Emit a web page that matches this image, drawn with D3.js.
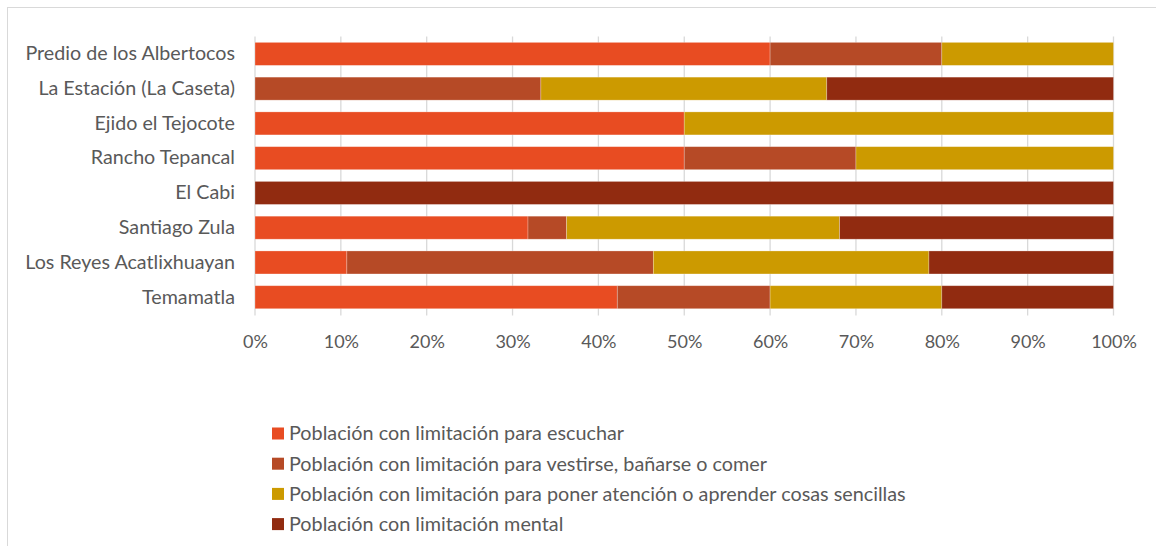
<!DOCTYPE html>
<html><head><meta charset="utf-8">
<script src="https://cdn.jsdelivr.net/npm/d3@7/dist/d3.min.js"></script>
<style>
html,body{margin:0;padding:0;background:#fff;}
svg{display:block;font-family:Lato, "Open Sans", sans-serif;}
</style></head><body>
<svg id="chart" width="1156" height="546"></svg>
<script>
const categories = ["Predio de los Albertocos","La Estación (La Caseta)","Ejido el Tejocote","Rancho Tepancal","El Cabi","Santiago Zula","Los Reyes Acatlixhuayan","Temamatla"];
const seriesNames = ["Población con limitación para escuchar","Población con limitación para vestirse, bañarse o comer","Población con limitación para poner atención o aprender cosas sencillas","Población con limitación mental"];
const escuchar = [60, 0, 50, 50, 0, 31.8, 10.7, 42.2];
const vestirse = [20, 33.3, 0, 20, 0, 4.5, 35.7, 17.8];
const atencion = [20, 33.3, 50, 30, 0, 31.8, 32.1, 20];
const mental   = [0, 33.4, 0, 0, 100, 31.9, 21.5, 20];
const tickValues = [0,0.1,0.2,0.3,0.4,0.5,0.6,0.7,0.8,0.9,1];
const colors = ["#E84C22","#B64A26","#CC9A00","#912B10"];

(function(){
const svg = d3.select("#chart");
const W = 1156, H = 546;
svg.append("rect").attr("x",7.5).attr("y",7.5).attr("width",W+20).attr("height",H+20)
  .attr("fill","none").attr("stroke","#d9d9d9").attr("stroke-width",1);

const pL = 255, pR = 1113.5, pT = 36.5, pB = 314.6;
const x = d3.scaleLinear().domain([0,1]).range([pL,pR]);
const y = d3.scaleBand().domain(categories).range([pT,pB]).paddingInner(0.338).paddingOuter(0.169);

const seriesArrays = [escuchar, vestirse, atencion, mental];
const table = categories.map((c,i)=>{
  const o = {cat:c};
  seriesNames.forEach((s,j)=>o[s]=seriesArrays[j][i]);
  return o;
});
const stacked = d3.stack().keys(seriesNames).offset(d3.stackOffsetExpand)(table);

svg.append("g").selectAll("line").data(tickValues).join("line")
  .attr("x1",d=>x(d)).attr("x2",d=>x(d)).attr("y1",pT).attr("y2",pB+1)
  .attr("stroke","#d9d9d9").attr("stroke-width",1.3);

svg.append("g").selectAll("g").data(stacked).join("g")
  .attr("fill",(d,i)=>colors[i])
  .selectAll("rect").data(d=>d.filter(p=>p[1]-p[0]>0)).join("rect")
  .attr("x",d=>x(d[0])).attr("width",d=>x(d[1])-x(d[0]))
  .attr("y",d=>y(d.data.cat)).attr("height",y.bandwidth())
  .attr("stroke","rgba(255,255,255,0.35)").attr("stroke-width",0.75);

const xAxis = d3.axisBottom(x).tickValues(tickValues).tickFormat(d3.format(".0%")).tickSize(0).tickPadding(0);
const gx = svg.append("g").attr("transform",`translate(0,${pB+21})`).call(xAxis);
gx.select(".domain").remove();
gx.selectAll("text").attr("fill","#595959").style("font-size","18px").style("font-family","Lato, sans-serif").attr("dy","0.32em").attr("y",7);

const yAxis = d3.axisLeft(y).tickSize(0).tickPadding(0);
const gy = svg.append("g").attr("transform",`translate(${pL-20},0)`).call(yAxis);
gy.select(".domain").remove();
gy.selectAll("text").attr("fill","#595959").style("font-size","19.7px").style("font-family","Lato, sans-serif");

const rows = svg.append("g").selectAll("g").data(seriesNames).join("g")
  .attr("transform",(d,i)=>`translate(272,${433.5 + i*30.2})`);
rows.append("rect").attr("x",0).attr("y",-6).attr("width",12).attr("height",12).attr("fill",(d,i)=>colors[i]);
rows.append("text").attr("x",17).attr("dy","0.35em").attr("fill","#595959")
  .style("font-size","19.8px").text(d=>d);
})();
</script></body></html>
